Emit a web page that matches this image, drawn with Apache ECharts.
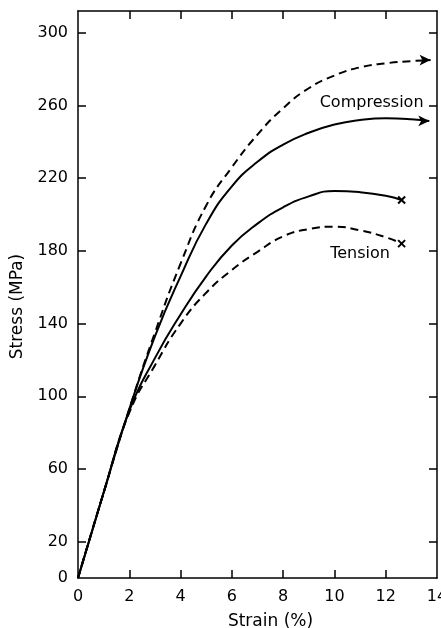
<!DOCTYPE html>
<html>
<head>
<meta charset="utf-8">
<script src="https://cdn.jsdelivr.net/npm/echarts@6/dist/echarts.min.js"></script>
<style>
html,body{margin:0;padding:0;background:#fff;}
#main{width:441px;height:628px;}
</style>
</head>
<body>
<div id="main"></div>
<script>
// ---- data ----
var compDashedStrain = [0, 1, 2, 3, 4, 5, 6, 7, 8, 9, 10, 11, 12, 13, 13.75];
var compDashedStress = [0, 47, 93, 135, 173, 205, 226, 244, 258.5, 269.5, 276.5, 281, 283.2, 284.4, 285];

var compSolidStrain = [0, 1, 2, 3, 4, 5, 6, 7, 8, 9, 10, 11, 12, 13, 13.7];
var compSolidStress = [0, 47, 93, 133, 166, 195, 215.5, 229, 238.5, 245, 249.5, 252, 253, 252.5, 251.5];

var tensSolidStrain = [0, 1, 2, 3, 4, 5, 6, 7, 8, 9, 10, 11, 12, 12.62];
var tensSolidStress = [0, 47, 92, 121, 145, 166, 183, 195, 204, 210, 213, 212.3, 210.3, 208];

var tensDashedStrain = [0, 1, 2, 3, 4, 5, 6, 7, 8, 9, 10, 11, 12, 12.62];
var tensDashedStress = [0, 47, 91, 117, 140, 157, 169.5, 179.5, 188, 192, 193.3, 191.3, 187.5, 184];

var xTicks = [0, 2, 4, 6, 8, 10, 12, 14];
var yLabelValues = [0, 20, 60, 100, 140, 180, 220, 260, 300];
var yTickValues = [20, 60, 100, 140, 180, 220, 260, 300];
var xInnerTicks = [2, 4, 6, 8, 10, 12];

var curveLabels = [
  {text: 'Compression', at: [11.45, 261.7]},
  {text: 'Tension', at: [11.0, 178.4]}
];

function pairs(xs, ys, endSymbol) {
  var out = [];
  for (var i = 0; i < xs.length; i++) {
    if (i === xs.length - 1 && endSymbol) {
      out.push(Object.assign({value: [xs[i], ys[i]]}, endSymbol));
    } else {
      out.push({value: [xs[i], ys[i]], symbol: 'none'});
    }
  }
  return out;
}

var FONT = 'DejaVu Sans';
var arrowEnd = {symbol: 'arrow', symbolSize: [8, 11], symbolRotate: -90, itemStyle: {color: '#000'}};
var crossEnd = {symbol: 'path://M0,0L10,10M10,0L0,10', symbolSize: 7, itemStyle: {color: 'none', borderColor: '#000', borderWidth: 2}};

var chart = echarts.init(document.getElementById('main'), null, {renderer: 'canvas'});

var axisLineStyle = {color: '#000', width: 1.5};

var option = {
  backgroundColor: '#fff',
  animation: false,
  grid: {left: 78, right: 4, top: 11, bottom: 50, outerBoundsMode: 'none', containLabel: false},
  xAxis: [{
    type: 'value', min: 0, max: 14, interval: 2, position: 'bottom',
    name: 'Strain (%)', nameLocation: 'middle', nameGap: 35,
    nameTextStyle: {fontFamily: FONT, fontSize: 17, color: '#000', padding: [0, 0, 0, 26]},
    axisLine: {show: true, onZero: false, lineStyle: axisLineStyle},
    axisTick: {show: true, inside: true, length: 8, lineStyle: axisLineStyle, customValues: xInnerTicks},
    axisLabel: {fontFamily: FONT, fontSize: 16, color: '#000', margin: 11, customValues: xTicks},
    splitLine: {show: false}
  }, {
    type: 'value', min: 0, max: 14, interval: 2, position: 'top',
    axisLine: {show: true, onZero: false, lineStyle: axisLineStyle},
    axisTick: {show: true, inside: true, length: 8, lineStyle: axisLineStyle, customValues: xInnerTicks},
    axisLabel: {show: false},
    splitLine: {show: false}
  }],
  yAxis: [{
    type: 'value', min: 0, max: 312, position: 'left',
    name: 'Stress (MPa)', nameLocation: 'middle', nameGap: 45,
    nameTextStyle: {fontFamily: FONT, fontSize: 17, color: '#000', padding: [0, 24, 0, 0]},
    axisLine: {show: true, onZero: false, lineStyle: axisLineStyle},
    axisTick: {show: true, inside: true, length: 8, lineStyle: axisLineStyle, customValues: yTickValues},
    axisLabel: {fontFamily: FONT, fontSize: 16, color: '#000', margin: 10, customValues: yLabelValues},
    splitLine: {show: false}
  }, {
    type: 'value', min: 0, max: 312, position: 'right',
    axisLine: {show: true, onZero: false, lineStyle: axisLineStyle},
    axisTick: {show: true, inside: true, length: 8, lineStyle: axisLineStyle, customValues: yTickValues},
    axisLabel: {show: false},
    splitLine: {show: false}
  }],
  series: [
    {type: 'line', smooth: 0.5, showSymbol: true, data: pairs(compDashedStrain, compDashedStress, arrowEnd),
     lineStyle: {color: '#000', width: 2, type: [8, 5]}, itemStyle: {color: '#000'}},
    {type: 'line', smooth: 0.5, showSymbol: true, data: pairs(compSolidStrain, compSolidStress, arrowEnd),
     lineStyle: {color: '#000', width: 2}, itemStyle: {color: '#000'}},
    {type: 'line', smooth: 0.5, showSymbol: true, data: pairs(tensSolidStrain, tensSolidStress, crossEnd),
     lineStyle: {color: '#000', width: 2}, itemStyle: {color: '#000'}},
    {type: 'line', smooth: 0.5, showSymbol: true, data: pairs(tensDashedStrain, tensDashedStress, crossEnd),
     lineStyle: {color: '#000', width: 2, type: [8, 5]}, itemStyle: {color: '#000'}}
  ]
};
chart.setOption(option);

var g = curveLabels.map(function (l) {
  var p = chart.convertToPixel({xAxisIndex: 0, yAxisIndex: 0}, l.at);
  return {type: 'text', x: p[0], y: p[1],
    style: {text: l.text, fontFamily: FONT, fontSize: 16, fill: '#000', align: 'center', verticalAlign: 'middle'}};
});
chart.setOption({graphic: g});
</script>
</body>
</html>
